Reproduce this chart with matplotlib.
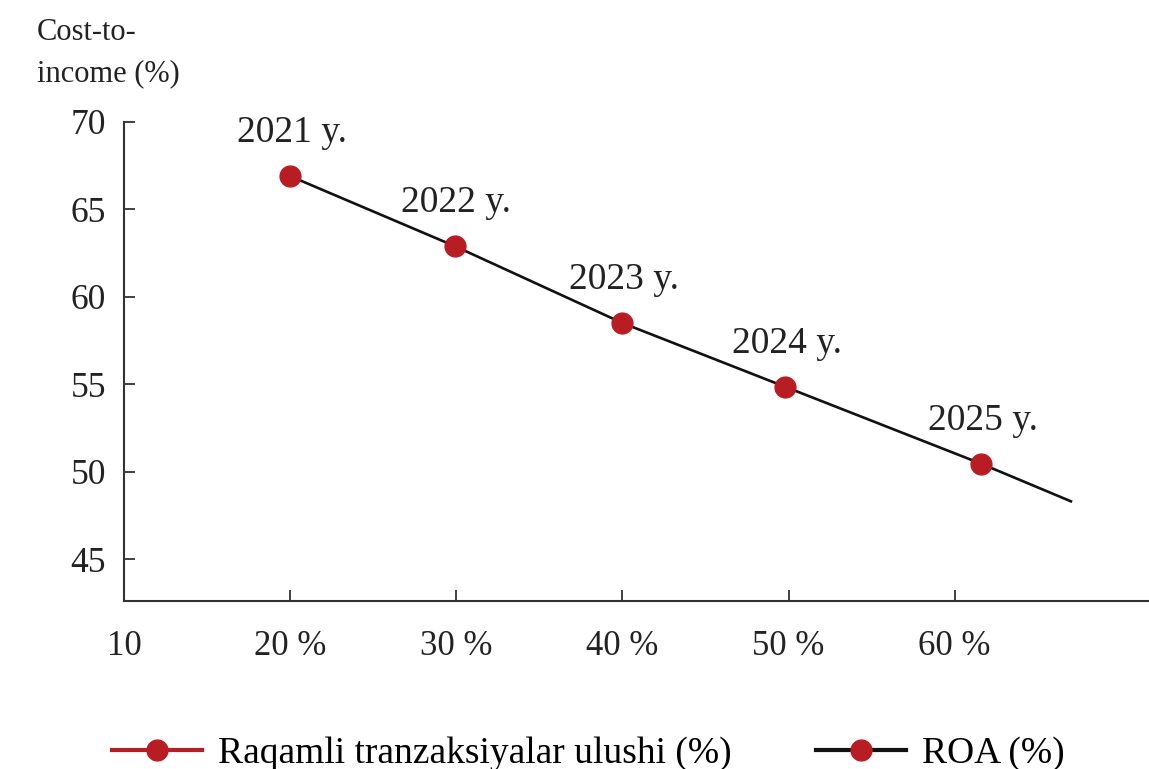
import matplotlib
matplotlib.use("Agg")
import matplotlib.pyplot as plt
from matplotlib.lines import Line2D

plt.rcParams['font.family'] = ['Liberation Serif', 'DejaVu Serif']

# data
years = ['2021 y.', '2022 y.', '2023 y.', '2024 y.', '2025 y.']
digital_share = [20.0, 29.9, 40.0, 49.8, 61.6]
cost_to_income = [66.9, 62.9, 58.5, 54.85, 50.45]
trend_end_x = 67.0
trend_end_y = 48.3

xticks = [10, 20, 30, 40, 50, 60]
xtick_labels = ['10', '20 %', '30 %', '40 %', '50 %', '60 %']
yticks = [45, 50, 55, 60, 65, 70]

red = '#B81D24'
ink = '#222222'

fig = plt.figure(figsize=(11.49, 7.69), dpi=100)
ax = fig.add_axes([0.108, 0.2185, 0.892, 0.6229])

# black line through the points, continued a bit past the last year
ax.plot(digital_share + [trend_end_x], cost_to_income + [trend_end_y],
        color='#111111', lw=1.9, zorder=2)
ax.plot(digital_share, cost_to_income, 'o', color=red, ms=15, zorder=3)

for x, y, lab in zip(digital_share, cost_to_income, years):
    ax.annotate(lab, (x, y), xytext=(1, 31), textcoords='offset points',
                ha='center', va='center', fontsize=27, color=ink)

ax.set_xlim(10, 71.7)
ax.set_ylim(42.6, 70)
ax.set_xticks(xticks)
ax.set_xticklabels(xtick_labels)
ax.set_yticks(yticks)

for s in ['top', 'right']:
    ax.spines[s].set_visible(False)
for s in ['left', 'bottom']:
    ax.spines[s].set_linewidth(1.5)
    ax.spines[s].set_color('#333333')

ax.tick_params(axis='both', direction='in', length=8, width=1.3,
               colors='#333333', labelcolor=ink)
ax.tick_params(axis='x', pad=21, labelsize=25)
ax.tick_params(axis='y', pad=13, labelsize=25.5)

fig.text(0.032, 0.958, 'Cost-to-', ha='left', va='center', fontsize=22, color=ink)
fig.text(0.032, 0.904, 'income (%)', ha='left', va='center', fontsize=22, color=ink)

handles = [
    Line2D([], [], color=red, lw=3, marker='o', ms=15, mfc=red, mec=red),
    Line2D([], [], color='#111111', lw=3, marker='o', ms=15, mfc=red, mec=red),
]
fig.legend(handles, ['Raqamli tranzaksiyalar ulushi (%)', 'ROA (%)'],
           loc='center', bbox_to_anchor=(0.512, 0.02), ncol=2, frameon=False,
           fontsize=27, handlelength=2.4, columnspacing=2.25, handletextpad=0.42)

fig.savefig('out.png', dpi=100)
